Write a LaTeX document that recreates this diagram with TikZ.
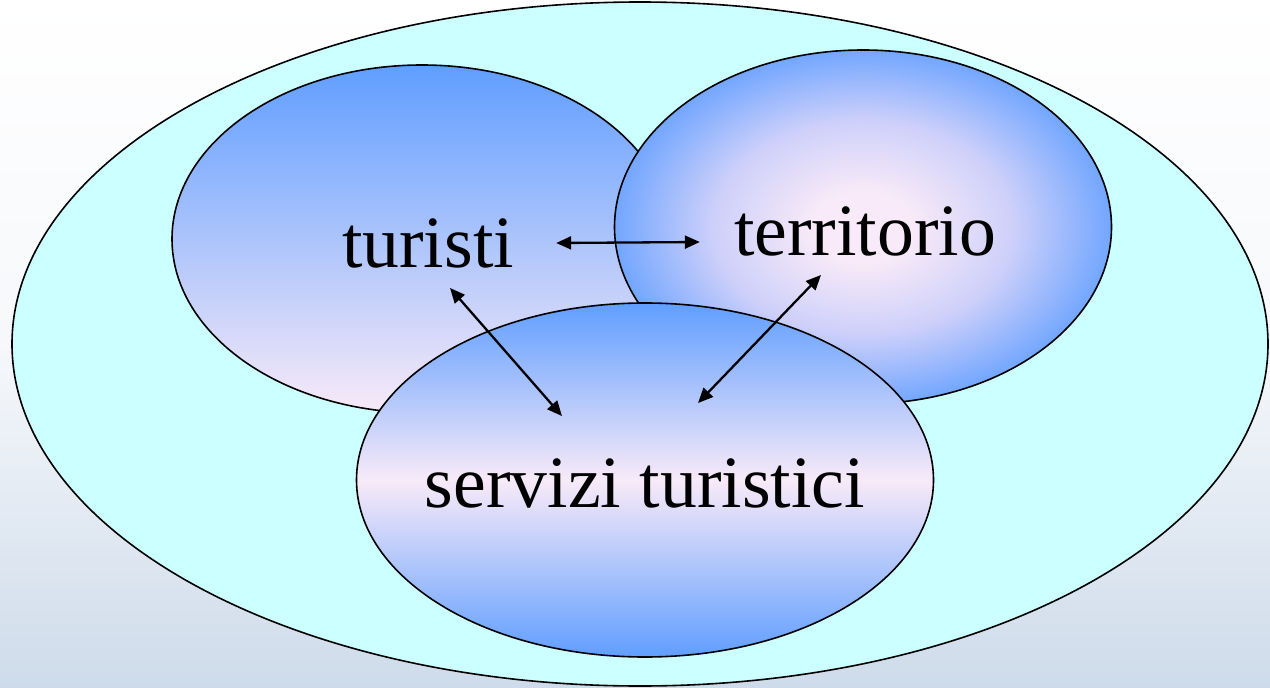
\documentclass[tikz,border=0pt]{standalone}
\usepackage{fontspec}
\setmainfont{Liberation Serif}
\usetikzlibrary{shapes.geometric,arrows.meta}

\definecolor{skyblue}{RGB}{96,158,255}
\definecolor{pinkish}{RGB}{248,234,248}
\definecolor{lavend}{RGB}{206,208,250}
\definecolor{aqua}{RGB}{204,255,255}
\definecolor{bgblue}{RGB}{206,219,234}
\definecolor{bgmid}{RGB}{246,248,251}

\pgfdeclareradialshading{terrshade}{\pgfpoint{0bp}{0bp}}{color(0bp)=(pinkish); color(5bp)=(pinkish); color(15bp)=(lavend); color(27bp)=(skyblue); color(70bp)=(skyblue)}

\begin{document}
\begin{tikzpicture}[x=1pt,y=-1pt,
    blob/.style={ellipse,draw,line width=1.6pt,inner sep=0pt},
    word/.style={font=\fontsize{73.7}{80}\selectfont,inner sep=0pt},
    link/.style={{Triangle[length=15pt,width=13pt]}-{Triangle[length=15pt,width=13pt]},line width=2.3pt}]
    \shade[top color=white,bottom color=bgblue,middle color=bgmid] (0,0) rectangle (1270,688);
    \useasboundingbox (0,0) rectangle (1270,688);
    % the three circles inside the big one
    \node[blob,fill=aqua,minimum width=1256pt,minimum height=684pt] (all) at (640,344) {};
    \node[blob,top color=skyblue,bottom color=pinkish,minimum width=500pt,minimum height=348pt] (turc) at (422,239) {};
    \node[blob,shading=terrshade,minimum width=497pt,minimum height=354pt] (terc) at (863,227) {};
    \node[blob,top color=skyblue,bottom color=skyblue,middle color=pinkish,minimum width=577pt,minimum height=354pt] (serc) at (645,480) {};
    \node[word] (tur) at (428,243) {turisti};
    \node[word] (ter) at (865,231) {territorio};
    \node[word] (ser) at (645,483) {servizi turistici};
    \draw[link] ([xshift=42pt]tur.east) -- ([xshift=-34pt,yshift=-11pt]ter.west);
    \draw[link] ([xshift=22pt,yshift=-20pt]tur.south) -- ([xshift=-83pt,yshift=42pt]ser.north);
    \draw[link] ([xshift=-44pt,yshift=-19pt]ter.south) -- ([xshift=53pt,yshift=55pt]ser.north);
\end{tikzpicture}
\end{document}
